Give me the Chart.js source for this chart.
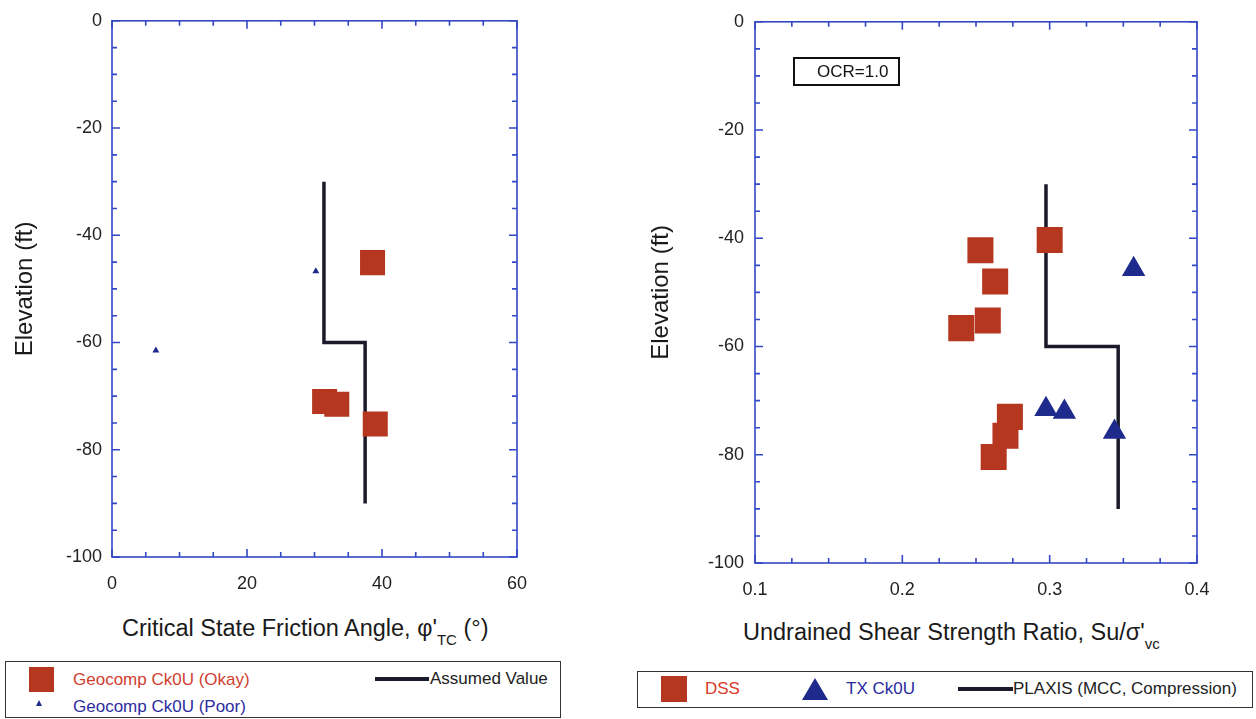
<!DOCTYPE html>
<html>
<head>
<meta charset="utf-8">
<title>Friction angle and strength ratio vs elevation</title>
<script src="https://cdn.jsdelivr.net/npm/chart.js"></script>
<style>
  body { margin: 0; background: #fff; font-family: "Liberation Sans", Arial, sans-serif; }
  #page { position: relative; width: 1256px; height: 719px; overflow: hidden; }
  canvas { position: absolute; top: 0; }
  .abs { position: absolute; white-space: nowrap; }
  .xtitle { font-size: 23.5px; color: #1a1a1a; line-height: 28px; }
  .xtitle sub { font-size: 15px; vertical-align: -9px; }
  .lbox { position: absolute; border: 1.5px solid #333; box-sizing: border-box; }
  .ltxt { position: absolute; font-size: 17px; line-height: 20px; white-space: nowrap; }
  .sq { position: absolute; background: #b5371f; }
  .tri { position: absolute; width: 0; height: 0; border-style: solid; border-color: transparent transparent #1e2a8c transparent; }
  .ln { position: absolute; height: 4px; background: #1a1a2a; }
</style>
</head>
<body>
<div id="page">
  <canvas id="phiChart" width="620" height="600" style="left:0;width:620px;height:600px"></canvas>
  <canvas id="suChart" width="628" height="600" style="left:628px;width:628px;height:600px"></canvas>

  <div class="abs xtitle" style="left:122px;top:614px">Critical State Friction Angle, φ'<sub>TC</sub> (°)</div>
  <div class="abs xtitle" style="left:743px;top:618px">Undrained Shear Strength Ratio, Su/σ'<sub>vc</sub></div>

  <div class="lbox" style="left:793px;top:57px;width:107px;height:29px;border:2px solid #111"></div>
  <div class="ltxt" style="left:817px;top:62px;color:#111">OCR=1.0</div>

  <!-- left legend -->
  <div class="lbox" style="left:5px;top:661px;width:556px;height:57px"></div>
  <div class="sq" style="left:29px;top:667px;width:25px;height:25px"></div>
  <div class="ltxt" style="left:73px;top:670px;color:#d0402f">Geocomp Ck0U (Okay)</div>
  <div class="tri" style="left:36px;top:700px;border-width:0 3.5px 6px 3.5px"></div>
  <div class="ltxt" style="left:73px;top:697px;color:#2c2ca0">Geocomp Ck0U (Poor)</div>
  <div class="ln" style="left:375px;top:677px;width:54px"></div>
  <div class="ltxt" style="left:430px;top:669px;color:#222">Assumed Value</div>

  <!-- right legend -->
  <div class="lbox" style="left:637px;top:671px;width:616px;height:37px"></div>
  <div class="sq" style="left:661px;top:676px;width:26px;height:26px"></div>
  <div class="ltxt" style="left:705px;top:679px;color:#d93a2a">DSS</div>
  <div class="tri" style="left:802px;top:678px;border-width:0 13px 22px 13px"></div>
  <div class="ltxt" style="left:846px;top:679px;color:#2a2aa0">TX Ck0U</div>
  <div class="ln" style="left:958px;top:687px;width:55px"></div>
  <div class="ltxt" style="left:1013px;top:679px;color:#222">PLAXIS (MCC, Compression)</div>
</div>

<script>
// left panel: critical state friction angle (deg) vs elevation (ft)
const okayPhi = [38.6, 31.5, 33.3, 39.0];
const okayElev = [-45.1, -71.0, -71.5, -75.2];
const poorPhi = [30.2, 6.5];
const poorElev = [-46.7, -61.5];
const assumedPhi = [31.4, 31.4, 37.5, 37.5];
const assumedElev = [-30, -60, -60, -90];

// right panel: undrained shear strength ratio vs elevation (ft)
const dssRatio = [0.300, 0.253, 0.263, 0.258, 0.240, 0.273, 0.270, 0.262];
const dssElev = [-40.3, -42.2, -48.0, -55.2, -56.6, -73.0, -76.5, -80.4];
const txRatio = [0.357, 0.2975, 0.310, 0.344];
const txElev = [-45.7, -71.6, -72.1, -75.8];
const plaxisRatio = [0.2975, 0.2975, 0.3465, 0.3465];
const plaxisElev = [-30, -60, -60, -90];

// axes
const elevTicks = [0, -20, -40, -60, -80, -100];
const phiTicks = [0, 20, 40, 60];
const ratioTicks = [0.1, 0.2, 0.3, 0.4];
const ratioTickLabels = ['0.1', '0.2', '0.3', '0.4'];

const RED = '#b5371f';
const BLUE = '#1e2a8c';
const FONT = '"Liberation Sans", Arial, sans-serif';

const pts = (xs, ys) => xs.map((v, i) => ({ x: v, y: ys[i] }));

// blue frame with inward ticks on all four sides
const frameTicks = {
  id: 'frameTicks',
  afterDatasetsDraw(chart, args, opts) {
    const { ctx, chartArea: a, scales: { x, y } } = chart;
    ctx.save();
    ctx.strokeStyle = '#3447c4';
    ctx.lineWidth = 1.6;
    ctx.beginPath();
    const n = Math.round((opts.xMax - opts.xMin) / opts.xStep);
    for (let i = 0; i <= n; i++) {
      const v = opts.xMin + i * opts.xStep;
      const p = x.getPixelForValue(v);
      const L = i % opts.xEvery === 0 ? 8 : 5;
      ctx.moveTo(p, a.bottom); ctx.lineTo(p, a.bottom - L);
      ctx.moveTo(p, a.top); ctx.lineTo(p, a.top + L);
    }
    for (let v = 0; v >= -100; v -= 5) {
      const p = y.getPixelForValue(v);
      const L = v % 20 === 0 ? 8 : 5;
      ctx.moveTo(a.left, p); ctx.lineTo(a.left + L, p);
      ctx.moveTo(a.right, p); ctx.lineTo(a.right - L, p);
    }
    ctx.stroke();
    ctx.strokeRect(a.left, a.top, a.width, a.height);
    ctx.restore();
  }
};

function panel(id, datasets, xs, lay) {
  new Chart(document.getElementById(id), {
    type: 'scatter',
    data: { datasets },
    options: {
      responsive: false,
      animation: false,
      layout: { padding: { left: 0, top: lay.top, right: lay.right, bottom: 0 } },
      plugins: { legend: { display: false }, tooltip: { enabled: false }, frameTicks: xs.frame },
      scales: {
        x: {
          type: 'linear', min: xs.min, max: xs.max,
          afterBuildTicks: s => { s.ticks = xs.ticks.map(v => ({ value: v })); },
          afterFit: s => { s.height = lay.xh; },
          grid: { display: false, drawTicks: false }, border: { display: false },
          ticks: {
            font: { size: 18, family: FONT }, color: '#222', padding: 16,
            maxRotation: 0, autoSkip: false,
            callback: (v, i) => xs.labels[i]
          }
        },
        y: {
          type: 'linear', min: -100, max: 0,
          afterBuildTicks: s => { s.ticks = elevTicks.map(v => ({ value: v })); },
          afterFit: s => { s.width = lay.yw; },
          grid: { display: false, drawTicks: false }, border: { display: false },
          ticks: { font: { size: 18, family: FONT }, color: '#222', padding: lay.ypad, autoSkip: false },
          title: {
            display: true, text: 'Elevation (ft)', color: '#1a1a1a',
            font: { size: 24, family: FONT }, padding: { top: lay.tpad, bottom: 0 }
          }
        }
      }
    },
    plugins: [frameTicks]
  });
}

panel('phiChart', [
  { label: 'Geocomp Ck0U (Okay)', data: pts(okayPhi, okayElev), pointStyle: 'rect',
    pointRadius: 17.7, backgroundColor: RED, borderColor: RED, borderWidth: 0 },
  { label: 'Geocomp Ck0U (Poor)', data: pts(poorPhi, poorElev), pointStyle: 'triangle',
    pointRadius: 4, backgroundColor: BLUE, borderColor: BLUE, borderWidth: 0 },
  { label: 'Assumed Value', data: pts(assumedPhi, assumedElev), showLine: true,
    pointRadius: 0, borderColor: '#1a1a2a', borderWidth: 3.5, fill: false }
], {
  min: 0, max: 60, ticks: phiTicks, labels: phiTicks.map(String),
  frame: { xMin: 0, xMax: 60, xStep: 5, xEvery: 4 }
}, { top: 19, right: 103, xh: 43, yw: 112, ypad: 10, tpad: 11 });

panel('suChart', [
  { label: 'DSS', data: pts(dssRatio, dssElev), pointStyle: 'rect',
    pointRadius: 18.4, backgroundColor: RED, borderColor: RED, borderWidth: 0 },
  { label: 'TX Ck0U', data: pts(txRatio, txElev), pointStyle: 'triangle',
    pointRadius: 13.5, backgroundColor: BLUE, borderColor: BLUE, borderWidth: 0 },
  { label: 'PLAXIS (MCC, Compression)', data: pts(plaxisRatio, plaxisElev), showLine: true,
    pointRadius: 0, borderColor: '#1a1a2a', borderWidth: 3.5, fill: false }
], {
  min: 0.1, max: 0.4, ticks: ratioTicks, labels: ratioTickLabels,
  frame: { xMin: 0.1, xMax: 0.4, xStep: 0.025, xEvery: 4 }
}, { top: 18, right: 59, xh: 37, yw: 127, ypad: 11, tpad: 19 });
</script>
</body>
</html>
